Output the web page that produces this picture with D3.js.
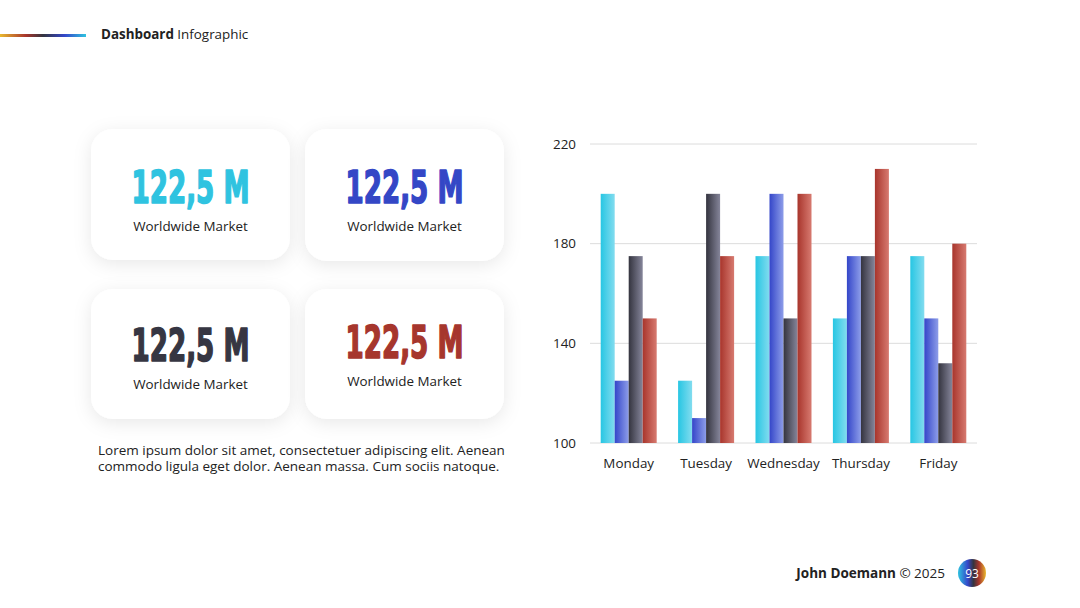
<!DOCTYPE html>
<html><head><meta charset="utf-8">
<script src="https://cdn.jsdelivr.net/npm/d3@7"></script>
<style>
html,body{margin:0;padding:0;background:#fff;}
svg{display:block;font-family:"Open Sans",sans-serif;}
</style></head>
<body>
<svg id="c" width="1080" height="608"></svg>
<script>
const categories = ["Monday","Tuesday","Wednesday","Thursday","Friday"];
const seriesNames = ["S1","S2","S3","S4"];
const s1 = [200,125,175,150,175];
const s2 = [125,110,200,175,150];
const s3 = [175,200,150,175,132];
const s4 = [150,175,200,210,180];
const yTicks = [100,140,180,220];
const cardValues = ["122,5 M","122,5 M","122,5 M","122,5 M"];
const cardLabels = ["Worldwide Market","Worldwide Market","Worldwide Market","Worldwide Market"];

const colors = [["#27c6e3","#82dcef"],["#3446c9","#8d9de9"],["#34343f","#85859a"],["#a8352c","#d77a70"]];
const cardColors = ["#2fc3e0","#3447c6","#363642","#a6362d"];

const svg = d3.select("#c");
const defs = svg.append("defs");
colors.forEach((c,i)=>{
  const g = defs.append("linearGradient").attr("id","g"+i).attr("x1","0").attr("x2","1").attr("y1","0").attr("y2","0");
  g.append("stop").attr("offset","0").attr("stop-color",c[0]);
  g.append("stop").attr("offset","1").attr("stop-color",c[1]);
});
const hg = defs.append("linearGradient").attr("id","hg").attr("x1","0").attr("x2","1");
[["0","#e9b92f"],["0.3","#a8352c"],["0.5","#34343f"],["0.75","#3446c9"],["1","#2fc3e0"]].forEach(s=>hg.append("stop").attr("offset",s[0]).attr("stop-color",s[1]));
const cg = defs.append("linearGradient").attr("id","cg").attr("x1","0").attr("x2","1");
[["0","#2fc3e0"],["0.35","#3446c9"],["0.55","#34343f"],["0.75","#a8352c"],["1","#e9b92f"]].forEach(s=>cg.append("stop").attr("offset",s[0]).attr("stop-color",s[1]));
const f = defs.append("filter").attr("id","sh").attr("x","-30%").attr("y","-30%").attr("width","160%").attr("height","160%");
f.append("feDropShadow").attr("dx",0).attr("dy",4).attr("stdDeviation",9).attr("flood-color","#000").attr("flood-opacity",0.09);

// header
svg.append("rect").attr("x",0).attr("y",34).attr("width",86).attr("height",3).attr("fill","url(#hg)");
const ht = svg.append("text").attr("x",101).attr("y",39).attr("font-size",13.4).attr("fill","#222");
ht.append("tspan").attr("font-weight",700).text("Dashboard");
ht.append("tspan").text(" Infographic");

// cards
const cardPos = [[91,129,131,225],[305,129,132,225],[91,289,130,383],[305,289,130,380]];
cardPos.forEach((p,i)=>{
  svg.append("rect").attr("x",p[0]).attr("y",p[1]).attr("width",199).attr("height",p[2]).attr("rx",22).attr("fill","#fff").attr("filter","url(#sh)");
  const cx = p[0]+99.5;
  svg.append("text").attr("x",cx-59).attr("y",p[3]-22).attr("font-family","'DejaVu Sans Condensed','DejaVu Sans',sans-serif").attr("font-weight",700)
    .attr("font-size",45).attr("fill",cardColors[i]).attr("stroke",cardColors[i]).attr("stroke-width",1.6).attr("stroke-linejoin","round")
    .attr("textLength",118).attr("lengthAdjust","spacingAndGlyphs").text(cardValues[i]);
  svg.append("text").attr("x",cx).attr("y",p[3]+5.5).attr("text-anchor","middle").attr("font-size",13.4).attr("fill","#222").text(cardLabels[i]);
});

// paragraph
const para = svg.append("text").attr("font-size",13.5).attr("fill","#222");
para.append("tspan").attr("x",98).attr("y",455).text("Lorem ipsum dolor sit amet, consectetuer adipiscing elit. Aenean");
para.append("tspan").attr("x",98).attr("y",471).text("commodo ligula eget dolor. Aenean massa. Cum sociis natoque.");

// chart
const x = d3.scaleBand().domain(categories).range([590,977]);
const y = d3.scaleLinear().domain([100,220]).range([443,144]);
const barW = 14;
const series = [s1,s2,s3,s4];

svg.append("g").selectAll("line").data(yTicks).join("line")
  .attr("x1",590).attr("x2",977).attr("y1",d=>y(d)).attr("y2",d=>y(d)).attr("stroke","#dcdcdc").attr("stroke-width",1);

const yAxis = svg.append("g").attr("transform","translate(590,0)").call(d3.axisLeft(y).tickValues(yTicks).tickSize(0).tickPadding(14));
yAxis.select(".domain").remove();
yAxis.selectAll("text").attr("font-family","'Open Sans',sans-serif").attr("font-size",13.4).attr("fill","#222");

const xAxis = svg.append("g").attr("transform","translate(0,443)").call(d3.axisBottom(x).tickSize(0).tickPadding(15));
xAxis.select(".domain").remove();
xAxis.selectAll("text").attr("font-family","'Open Sans',sans-serif").attr("font-size",13.4).attr("fill","#222");

series.forEach((s,si)=>{
  svg.append("g").selectAll("rect").data(s).join("rect")
    .attr("x",(d,i)=>x(categories[i])+x.bandwidth()/2-2*barW+si*barW)
    .attr("y",d=>y(d)).attr("width",barW).attr("height",d=>y(100)-y(d))
    .attr("fill","url(#g"+si+")");
});

// footer
const ft = svg.append("text").attr("x",945).attr("y",578).attr("text-anchor","end").attr("font-size",13.5).attr("fill","#222");
ft.append("tspan").attr("font-weight",700).text("John Doemann");
ft.append("tspan").text(" © 2025");
svg.append("circle").attr("cx",972).attr("cy",573).attr("r",14).attr("fill","url(#cg)");
svg.append("text").attr("x",972).attr("y",577.5).attr("text-anchor","middle").attr("font-size",12).attr("fill","#fff").text("93");
</script>
</body></html>
